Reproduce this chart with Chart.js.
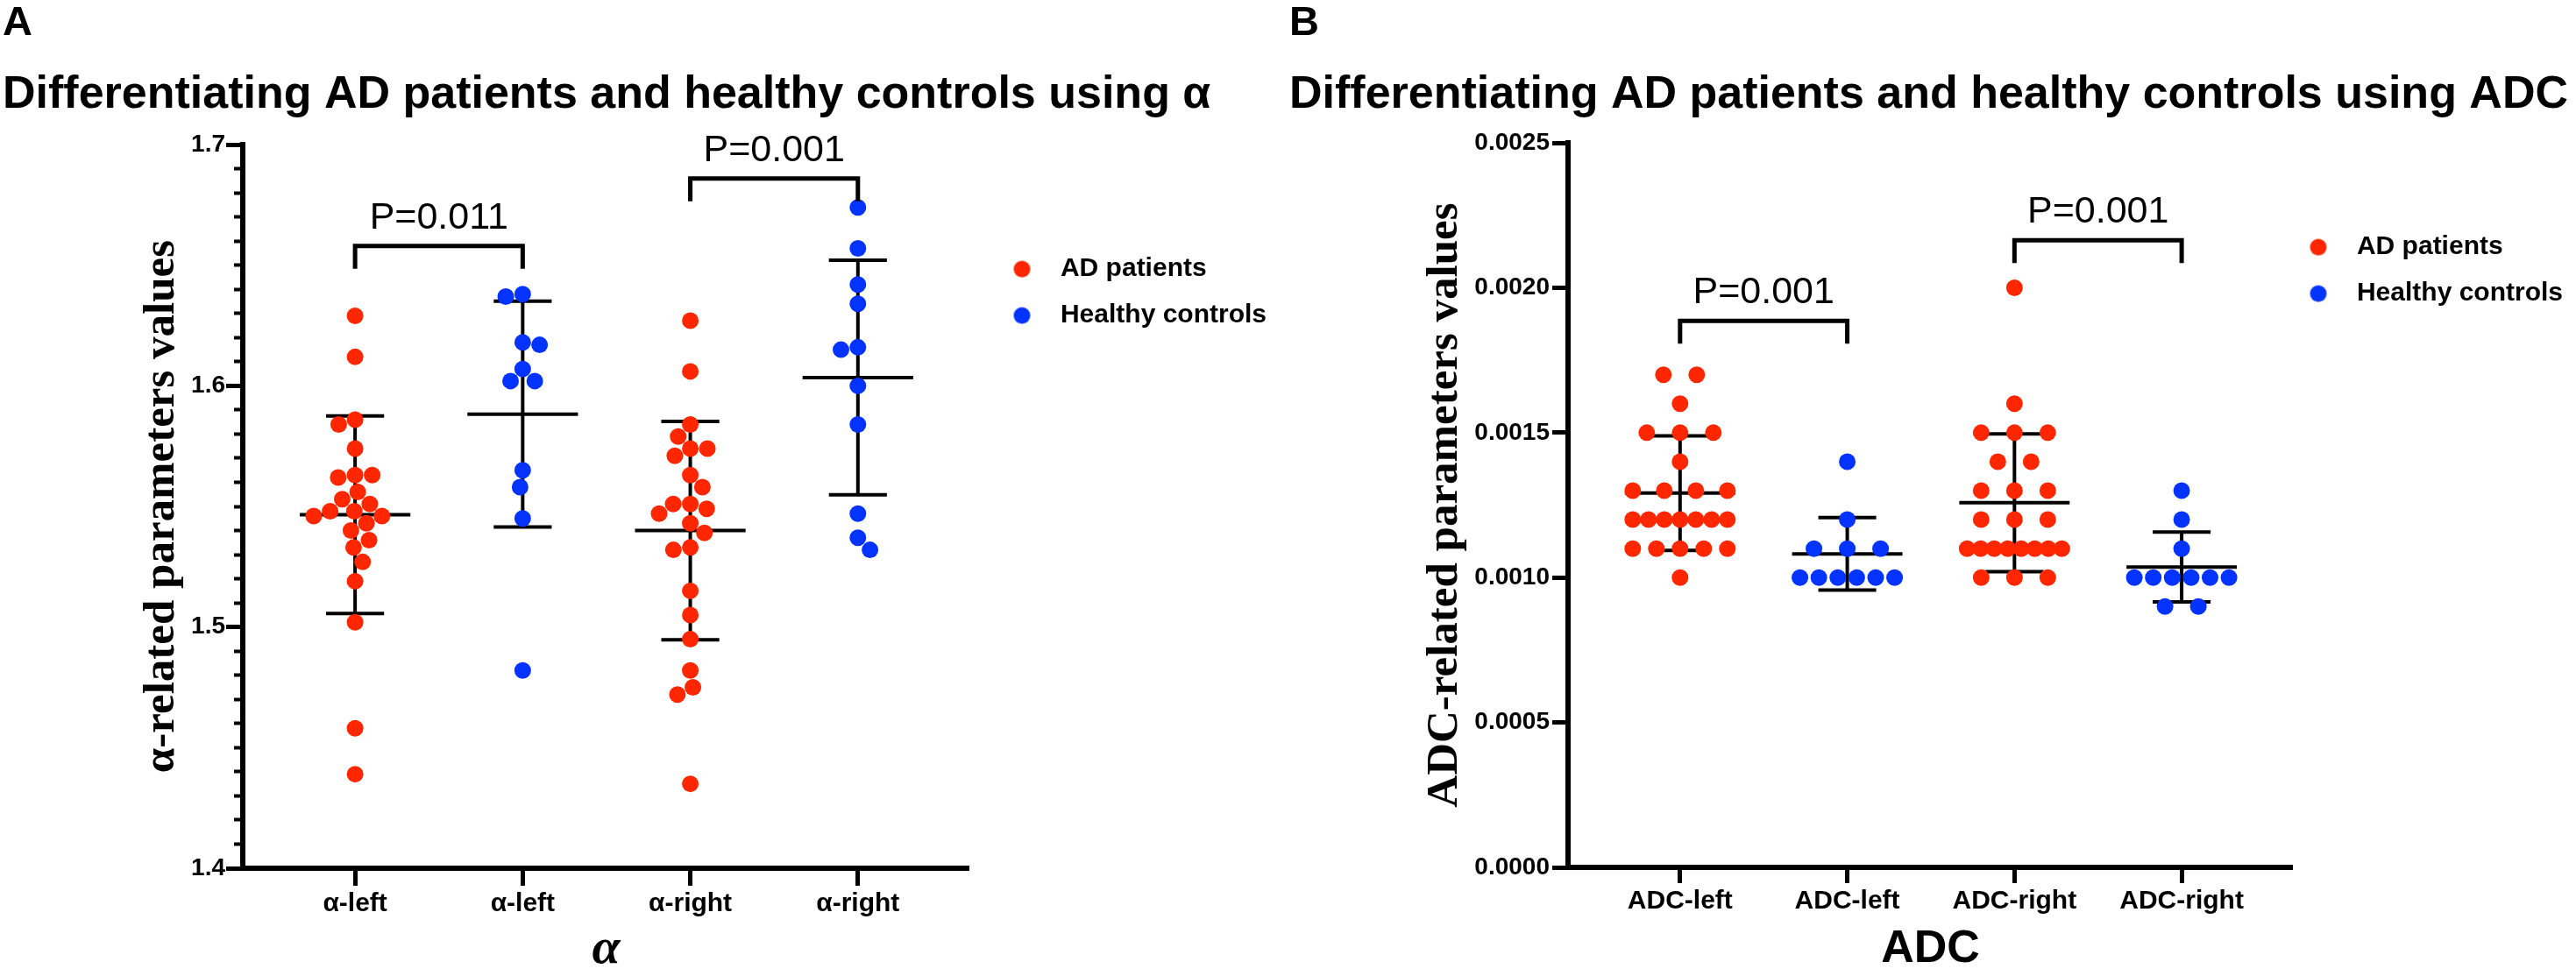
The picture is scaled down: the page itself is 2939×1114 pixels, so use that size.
<!DOCTYPE html>
<html>
<head>
<meta charset="utf-8">
<title>Differentiating AD patients and healthy controls</title>
<script src="https://cdn.jsdelivr.net/npm/chart.js@4.4.1/dist/chart.umd.min.js"></script>
<style>
  html, body { margin: 0; padding: 0; background: #fff; }
  #wrap { position: relative; width: 2939px; height: 1114px; overflow: hidden; }
  canvas { position: absolute; top: 0; }
  #chartA { left: 0; }
  #chartB { left: 1468px; }
</style>
</head>
<body>
<div id="wrap">
  <canvas id="chartA" width="1460" height="1114"></canvas>
  <canvas id="chartB" width="1471" height="1114"></canvas>
</div>
<script>
var SANS = '"Liberation Sans", Arial, Helvetica, sans-serif';
var SERIF = '"Liberation Serif", "Times New Roman", serif';
var RED = '#FF2600';
var BLUE = '#0433FF';

var seriesNames = ['AD patients', 'Healthy controls'];

// Panel A: alpha
var groupsA = ['α-left', 'α-left', 'α-right', 'α-right'];
var adLeftA = [1.629, 1.612, 1.584, 1.586, 1.574, 1.563, 1.562, 1.563, 1.556, 1.553, 1.551, 1.546,
               1.548, 1.548, 1.546, 1.543, 1.540, 1.536, 1.533, 1.527, 1.519, 1.502, 1.458, 1.439];
var hcLeftA = [1.637, 1.638, 1.617, 1.618, 1.607, 1.602, 1.602, 1.565, 1.558, 1.545, 1.482];
var adRightA = [1.627, 1.606, 1.584, 1.579, 1.571, 1.574, 1.574, 1.563, 1.558, 1.551, 1.549, 1.551,
                1.543, 1.547, 1.539, 1.532, 1.533, 1.515, 1.505, 1.495, 1.482, 1.475, 1.472, 1.435];
var hcRightA = [1.674, 1.657, 1.642, 1.634, 1.615, 1.616, 1.600, 1.584, 1.547, 1.537, 1.532];
var yTicksA = [1.4, 1.5, 1.6, 1.7];
var pairsA = [[1, 2], [3, 4]];
var pLevelsA = [1.658, 1.686];
var pTextA = ['P=0.011', 'P=0.001'];

// Panel B: ADC
var groupsB = ['ADC-left', 'ADC-left', 'ADC-right', 'ADC-right'];
var adLeftB = [0.0017, 0.0017, 0.0016, 0.0015, 0.0015, 0.0015, 0.0014, 0.0013, 0.0013, 0.0013, 0.0013,
               0.0012, 0.0012, 0.0012, 0.0012, 0.0012, 0.0012, 0.0012,
               0.0011, 0.0011, 0.0011, 0.0011, 0.0011, 0.0010];
var hcLeftB = [0.0014, 0.0012, 0.0011, 0.0011, 0.0011, 0.0010, 0.0010, 0.0010, 0.0010, 0.0010, 0.0010];
var adRightB = [0.0020, 0.0016, 0.0015, 0.0015, 0.0015, 0.0014, 0.0014, 0.0013, 0.0013, 0.0013,
                0.0012, 0.0012, 0.0012, 0.0011, 0.0011, 0.0011, 0.0011, 0.0011, 0.0011, 0.0011, 0.0011,
                0.0010, 0.0010, 0.0010];
var hcRightB = [0.0013, 0.0012, 0.0011, 0.0010, 0.0010, 0.0010, 0.0010, 0.0010, 0.0010, 0.0009, 0.0009];
var yTicksB = [0, 0.0005, 0.0010, 0.0015, 0.0020, 0.0025];
var pairsB = [[1, 2], [3, 4]];
var pLevelsB = [0.001886, 0.002164];
var pTextB = ['P=0.001', 'P=0.001'];

var DOT_R = 9.5;
var MEAN_HALF = 0.33;
var CAP_HALF = 0.173;

Chart.defaults.color = '#000';
Chart.defaults.font.family = SANS;

function mean(a) {
  var s = 0;
  a.forEach(function (v) { s += v; });
  return s / a.length;
}

function sd(a) {
  var m = mean(a), s = 0;
  a.forEach(function (v) { s += (v - m) * (v - m); });
  return Math.sqrt(s / (a.length - 1));
}

// equal values sit in one centred row (GraphPad style)
function rowOffsets(values, gap, span) {
  var rows = {}, out = [];
  values.forEach(function (v, i) {
    var k = v.toFixed(7);
    (rows[k] = rows[k] || []).push(i);
  });
  Object.keys(rows).forEach(function (k) {
    var idx = rows[k], n = idx.length;
    var step = n > 1 ? Math.min(gap, span / (n - 1)) : 0;
    idx.forEach(function (i, j) { out[i] = (j - (n - 1) / 2) * step; });
  });
  return out;
}

// simple beeswarm in pixel space
function swarmOffsets(py, d) {
  var order = py.map(function (_, i) { return i; }).sort(function (a, b) { return py[a] - py[b]; });
  var placed = [], out = [], side = 1;
  order.forEach(function (i) {
    var cands = [0];
    placed.forEach(function (p) {
      var dy = py[i] - p.y;
      if (Math.abs(dy) < d) {
        var h = Math.sqrt(d * d - dy * dy);
        cands.push(p.x + h, p.x - h);
      }
    });
    var ok = cands.filter(function (c) {
      return placed.every(function (p) {
        var dx = c - p.x, dy = py[i] - p.y;
        return dx * dx + dy * dy >= d * d - 0.01;
      });
    });
    ok.sort(function (a, b) {
      var da = Math.abs(a) - Math.abs(b);
      return Math.abs(da) > 0.01 ? da : (a - b) * side;
    });
    var x = ok[0];
    if (x > 0.01) side = 1; else if (x < -0.01) side = -1;
    placed.push({ x: x, y: py[i] });
    out[i] = x;
  });
  return out;
}

function legendDot(color, shift) {
  var c = document.createElement('canvas');
  c.width = Math.ceil(2 * (DOT_R + Math.abs(shift)) + 4);
  c.height = Math.ceil(2 * DOT_R + 4);
  var ctx = c.getContext('2d');
  ctx.fillStyle = color;
  ctx.beginPath();
  ctx.arc(c.width / 2 + shift, c.height / 2, DOT_R, 0, Math.PI * 2);
  ctx.fill();
  return c;
}

var bracketPlugin = {
  id: 'brackets',
  afterDatasetsDraw: function (chart, args, opts) {
    var ctx = chart.ctx, xs = chart.scales.x, ys = chart.scales.y;
    ctx.save();
    ctx.strokeStyle = '#000';
    ctx.lineWidth = 5;
    ctx.lineJoin = 'miter';
    ctx.fillStyle = '#000';
    ctx.font = '43px ' + SANS;
    ctx.textAlign = 'center';
    ctx.textBaseline = 'alphabetic';
    opts.pairs.forEach(function (pair, i) {
      var x1 = xs.getPixelForValue(pair[0]);
      var x2 = xs.getPixelForValue(pair[1]);
      var y = ys.getPixelForValue(opts.levels[i]);
      ctx.beginPath();
      ctx.moveTo(x1, y + 26);
      ctx.lineTo(x1, y);
      ctx.lineTo(x2, y);
      ctx.lineTo(x2, y + 26);
      ctx.stroke();
      ctx.fillText(opts.labels[i], (x1 + x2) / 2, y - 20);
    });
    ctx.restore();
  }
};

function spreadDots(chart, groups, mode) {
  var xs = chart.scales.x, ys = chart.scales.y;
  var unit = xs.getPixelForValue(1) - xs.getPixelForValue(0);
  var dots = [[], []];
  groups.forEach(function (g) {
    var off = mode === 'rows'
      ? rowOffsets(g.values, 38, 108)
      : swarmOffsets(g.values.map(function (v) { return ys.getPixelForValue(v); }), 19.5);
    g.values.forEach(function (v, i) { dots[g.series].push({ x: g.cat + off[i] / unit, y: v }); });
  });
  chart.data.datasets[0].data = dots[0];
  chart.data.datasets[1].data = dots[1];
  chart.update('none');
}

function makeChart(p) {
  var groups = [
    { cat: 1, series: 0, values: p.adLeft },
    { cat: 2, series: 1, values: p.hcLeft },
    { cat: 3, series: 0, values: p.adRight },
    { cat: 4, series: 1, values: p.hcRight }
  ];

  var dots = [[], []];
  var bars = [];
  groups.forEach(function (g) {
    g.values.forEach(function (v) { dots[g.series].push({ x: g.cat, y: v }); });
    var m = mean(g.values), s = sd(g.values), c = g.cat;
    bars.push(
      { x: c - MEAN_HALF, y: m }, { x: c + MEAN_HALF, y: m }, { x: NaN, y: NaN },
      { x: c, y: m - s }, { x: c, y: m + s }, { x: NaN, y: NaN },
      { x: c - CAP_HALF, y: m + s }, { x: c + CAP_HALF, y: m + s }, { x: NaN, y: NaN },
      { x: c - CAP_HALF, y: m - s }, { x: c + CAP_HALF, y: m - s }, { x: NaN, y: NaN }
    );
  });

  var scales = {
    x: {
      type: 'linear',
      min: 0.33,
      max: 4.665,
      afterBuildTicks: function (axis) {
        axis.ticks = p.groups.map(function (_, i) { return { value: i + 1 }; });
      },
      afterFit: function (s) { s.height = p.xAxisHeight; },
      grid: { drawOnChartArea: false, drawTicks: true, tickLength: p.xTickLength, tickWidth: 5, tickColor: '#000' },
      border: { display: true, width: 6, color: '#000' },
      ticks: {
        autoSkip: false, maxRotation: 0, minRotation: 0, padding: 3, color: '#000',
        font: { family: SANS, size: 30, weight: 'bold' },
        callback: function (v, i) { return p.groups[i]; }
      },
      title: {
        display: true, text: p.xTitle, color: '#000',
        font: p.xTitleFont,
        padding: { top: 0, bottom: p.xTitlePad }
      }
    },
    y: {
      type: 'linear',
      position: 'left',
      weight: 1,
      min: p.yTicks[0],
      max: p.yTicks[p.yTicks.length - 1],
      afterBuildTicks: function (axis) {
        axis.ticks = p.yTicks.map(function (v) { return { value: v }; });
      },
      afterFit: function (s) { s.width = p.yAxisWidth; },
      grid: { drawOnChartArea: false, drawTicks: true, tickLength: p.yTickLength, tickWidth: 5, tickColor: '#000' },
      border: { display: true, width: 6, color: '#000' },
      ticks: {
        padding: p.yTickPad, color: '#000',
        font: { family: SANS, size: 28, weight: 'bold' },
        callback: function (v) { return Number(v).toFixed(p.decimals); }
      },
      title: {
        display: true, text: p.yTitle, color: '#000',
        font: { family: SERIF, size: 51, weight: 'bold', lineHeight: 1 },
        padding: { top: p.yTitlePad, bottom: 0 }
      }
    }
  };

  if (p.minorTicks) {
    scales.yMinor = {
      type: 'linear',
      position: 'left',
      weight: 0,
      min: p.yTicks[0],
      max: p.yTicks[p.yTicks.length - 1],
      afterBuildTicks: function (axis) {
        axis.ticks = p.minorTicks.map(function (v) { return { value: v }; });
      },
      afterFit: function (s) { s.width = 0; },
      grid: { drawOnChartArea: false, drawTicks: true, tickLength: 10, tickWidth: 4, tickColor: '#000' },
      border: { display: false },
      ticks: { display: false }
    };
  }

  var chart = new Chart(document.getElementById(p.canvas), {
    type: 'scatter',
    data: {
      datasets: [
        { label: seriesNames[0], data: dots[0], xAxisID: 'x', yAxisID: 'y', backgroundColor: RED,
          borderWidth: 0, pointRadius: DOT_R, pointHoverRadius: DOT_R, order: 1 },
        { label: seriesNames[1], data: dots[1], xAxisID: 'x', yAxisID: 'y', backgroundColor: BLUE,
          borderWidth: 0, pointRadius: DOT_R, pointHoverRadius: DOT_R, order: 1 },
        { label: 'Mean ± SD', data: bars, xAxisID: 'x', yAxisID: 'y', showLine: true, spanGaps: false,
          borderColor: '#000', borderWidth: 4, pointRadius: 0, pointHoverRadius: 0, order: 2 }
      ]
    },
    options: {
      responsive: false,
      animation: false,
      events: [],
      layout: { padding: { left: 3, right: p.padRight, top: 0, bottom: 0 } },
      plugins: {
        title: {
          display: true, text: p.panel, align: 'start', color: '#000',
          font: { family: SANS, size: 47, weight: 'bold', lineHeight: 1.1 },
          padding: { top: 1, bottom: 0 }
        },
        subtitle: {
          display: true, text: p.title, align: 'start', color: '#000',
          font: { family: SANS, size: 52, weight: 'bold', lineHeight: 1.2 },
          padding: { top: 25, bottom: p.titleGap }
        },
        legend: {
          position: 'right',
          align: 'start',
          fullSize: false,
          maxWidth: 420,
          title: { display: true, text: '', font: { size: 10, lineHeight: 1 }, padding: { top: p.legendTop, bottom: 0 } },
          labels: {
            usePointStyle: true,
            pointStyleWidth: p.legendBox,
            padding: 23,
            color: '#000',
            font: { family: SANS, size: 30, weight: 'bold' },
            generateLabels: function (ch) {
              var items = Chart.defaults.plugins.legend.labels.generateLabels(ch);
              return items.filter(function (it) { return it.datasetIndex < 2; }).map(function (it) {
                it.pointStyle = legendDot(it.fillStyle, p.legendShift);
                it.lineWidth = 0;
                return it;
              });
            }
          }
        },
        tooltip: { enabled: false },
        brackets: { pairs: p.pairs, levels: p.levels, labels: p.pText }
      },
      scales: scales
    },
    plugins: [bracketPlugin]
  });

  spreadDots(chart, groups, p.swarm);
  return chart;
}

var minorA = [];
for (var i = 0; i <= 30; i++) minorA.push(+(1.4 + i * 0.01).toFixed(2));

makeChart({
  canvas: 'chartA', panel: 'A',
  title: 'Differentiating AD patients and healthy controls using α',
  groups: groupsA, adLeft: adLeftA, hcLeft: hcLeftA, adRight: adRightA, hcRight: hcRightA,
  yTicks: yTicksA, minorTicks: minorA, decimals: 1,
  pairs: pairsA, levels: pLevelsA, pText: pTextA,
  swarm: 'swarm',
  yTitle: 'α-related parameters values', yTitlePad: 156,
  xTitle: 'α', xTitleFont: { family: SERIF, size: 58, weight: 'bold', style: 'italic', lineHeight: 1 }, xTitlePad: 1,
  yAxisWidth: 274, yTickLength: 19, yTickPad: 1,
  xAxisHeight: 123, xTickLength: 20,
  titleGap: 25,
  padRight: 5, legendTop: 94, legendBox: 66, legendShift: 4
});

makeChart({
  canvas: 'chartB', panel: 'B',
  title: 'Differentiating AD patients and healthy controls using ADC',
  groups: groupsB, adLeft: adLeftB, hcLeft: hcLeftB, adRight: adRightB, hcRight: hcRightB,
  yTicks: yTicksB, minorTicks: null, decimals: 4,
  pairs: pairsB, levels: pLevelsB, pText: pTextB,
  swarm: 'rows',
  yTitle: 'ADC-related parameters values', yTitlePad: 152,
  xTitle: 'ADC', xTitleFont: { family: SANS, size: 52, weight: 'bold', lineHeight: 1 }, xTitlePad: 4,
  yAxisWidth: 318, yTickLength: 18, yTickPad: 3,
  xAxisHeight: 124, xTickLength: 18,
  titleGap: 23,
  padRight: 5, legendTop: 71, legendBox: 35, legendShift: -11.5
});
</script>
</body>
</html>
